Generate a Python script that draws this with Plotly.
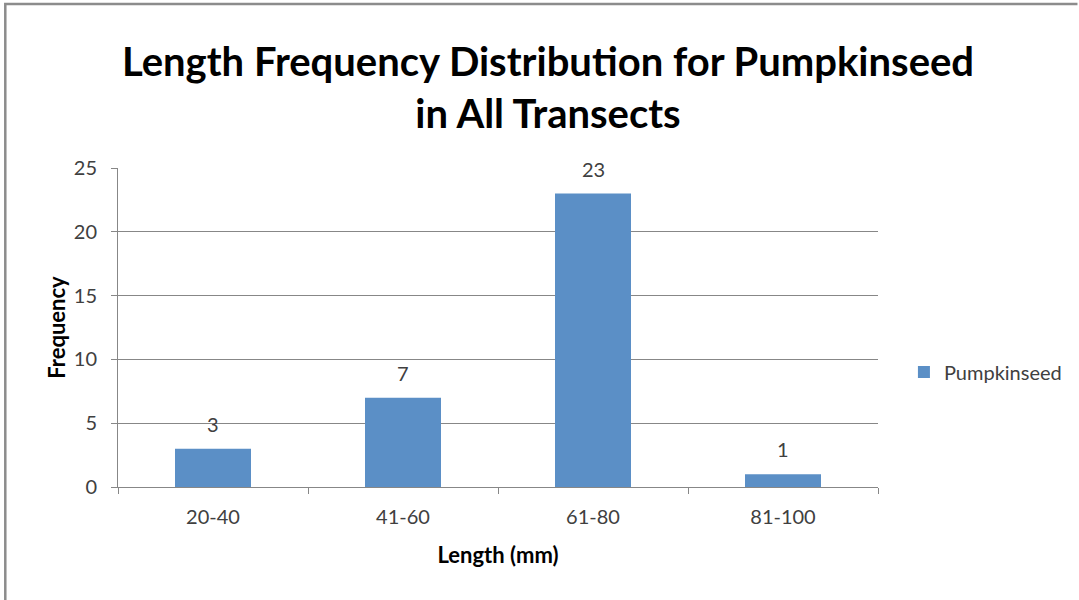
import plotly.graph_objects as go

# Length classes (mm) and fish counts
length_classes = ["20-40", "41-60", "61-80", "81-100"]
frequency = [3, 7, 23, 1]
series_name = "Pumpkinseed"
y_ticks = [0, 5, 10, 15, 20, 25]

W, H = 1079, 600
L, R, T, B = 118, 880, 168, 487

FONT = "Lato"
bar_color = "#5b8fc6"
text_color = "#404040"

fig = go.Figure()
fig.add_trace(go.Bar(
    x=length_classes,
    y=frequency,
    name=series_name,
    marker=dict(color=bar_color, line=dict(width=0)),
    width=0.4,
    showlegend=True,
))

# Value labels floating above each bar
for cat, val in zip(length_classes, frequency):
    fig.add_annotation(
        x=cat, y=val, xref="x", yref="y",
        text=str(val), showarrow=False,
        yanchor="middle", yshift=25,
        font=dict(family=FONT, size=20, color=text_color),
    )

def px_x(p):
    return (p - L) / (R - L)

def px_y(p):
    return (B - p) / (B - T)

# Outer frame of the chart area (top and left edges)
fig.add_shape(
    type="path", xref="paper", yref="paper",
    path=f"M {px_x(5)},{px_y(601)} L {px_x(5)},{px_y(4)} L {px_x(1080)},{px_y(4)}",
    line=dict(color="#8c8c8c", width=2.5),
)

fig.update_layout(
    width=W, height=H,
    margin=dict(l=L, r=W - R, t=T, b=H - B, pad=0),
    paper_bgcolor="white", plot_bgcolor="white",
    title=dict(
        text="<b>Length Frequency Distribution for Pumpkinseed<br>in All Transects</b>",
        x=(548) / W, xanchor="center", y=1 - 76 / H, yanchor="middle",
        font=dict(family=FONT, size=40, color="black"),
    ),
    font=dict(family=FONT, color=text_color),
    bargap=0.6,
    legend=dict(
        x=px_x(906), y=px_y(372), xanchor="left", yanchor="middle",
        font=dict(family=FONT, size=20, color=text_color),
        bgcolor="rgba(0,0,0,0)", itemwidth=30,
    ),
    xaxis=dict(
        tickson="boundaries", ticks="outside", ticklen=6, tickcolor="#878787",
        showline=True, linecolor="#878787", linewidth=1,
        showgrid=False,
        ticklabelstandoff=12,
        tickfont=dict(family=FONT, size=20, color=text_color),
        title=dict(text="<b>Length (mm)</b>", font=dict(family=FONT, size=22, color="black"), standoff=20),
    ),
    yaxis=dict(
        range=[0, 25], tickvals=y_ticks,
        ticks="outside", ticklen=6, tickcolor="#878787",
        showline=True, linecolor="#878787", linewidth=1,
        showgrid=True, gridcolor="#878787", gridwidth=1,
        zeroline=False,
        ticklabelstandoff=10,
        tickfont=dict(family=FONT, size=20, color=text_color),
        title=dict(text="<b>Frequency</b>", font=dict(family=FONT, size=22, color="black"), standoff=2),
    ),
)

fig.write_html("out.html")
